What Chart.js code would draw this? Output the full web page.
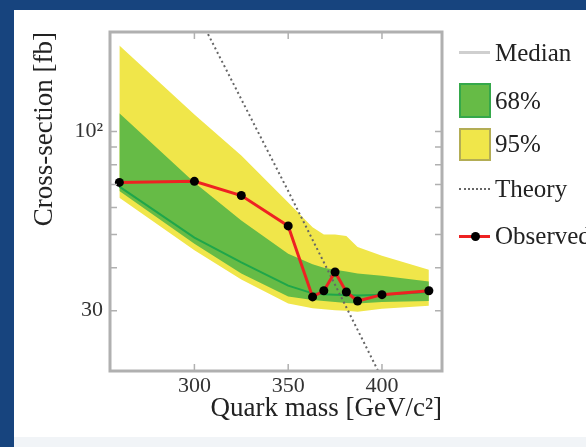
<!DOCTYPE html>
<html>
<head>
<meta charset="utf-8">
<script src="https://cdn.jsdelivr.net/npm/chart.js@4/dist/chart.umd.min.js"></script>
<style>
  html, body { margin: 0; padding: 0; }
  body { width: 586px; height: 447px; background: #17447e; position: relative; overflow: hidden; }
  #panel { position: absolute; left: 14px; top: 10px; width: 572px; height: 427px; background: #fff; }
  #strip { position: absolute; left: 14px; top: 437px; width: 572px; height: 10px; background: #f1f4f7; }
  #legend { position: absolute; left: 0; top: 0; font-family: "Liberation Serif", serif; font-size: 25px; color: #222; }
  .item { position: absolute; left: 495px; white-space: nowrap; line-height: 1; }
  .sw { position: absolute; }
</style>
</head>
<body>
<div id="panel"><canvas id="limitChart"></canvas></div>
<div id="strip"></div>
<div id="legend">
  <div class="sw" style="left:459px;top:51px;width:31px;height:3px;background:#cfcfcf"></div>
  <div class="item" style="top:40px">Median</div>

  <div class="sw" style="left:459px;top:83px;width:28px;height:31px;background:#66bb46;border:2px solid #35a84a"></div>
  <div class="item" style="top:88px">68%</div>

  <div class="sw" style="left:459px;top:128px;width:28px;height:29px;background:#f0e64a;border:2px solid #b3ad55"></div>
  <div class="item" style="top:131px">95%</div>

  <div class="sw" style="left:459px;top:188px;width:31px;height:0;border-top:2px dotted #666"></div>
  <div class="item" style="top:176px">Theory</div>

  <div class="sw" style="left:459px;top:235px;width:31px;height:3px;background:#ee2222"></div>
  <div class="sw" style="left:471px;top:232px;width:9px;height:9px;border-radius:50%;background:#000"></div>
  <div class="item" style="top:223px">Observed</div>
</div>

<script>
// masses in GeV/c^2 and cross-sections in fb
const masses     = [260, 300, 325, 350, 363, 369, 375, 381, 387, 400, 425];
const observed   = [71, 71.5, 65, 53, 32.9, 34.3, 38.9, 34.0, 32.0, 33.4, 34.3];
const median     = [69, 49, 41.5, 35.5, 33.7, 33.5, 33.4, 33.3, 33.2, 33.4, 34];
const band68Up   = [113, 71, 55, 44, 41, 40, 39.5, 39, 38.5, 37.9, 36.5];
const band68Low  = [67, 47, 38.5, 33, 32.2, 32, 31.8, 31.6, 31.5, 31.8, 32];
const band95Up   = [178, 112, 85, 62, 52.5, 50, 50, 49.5, 46, 43.4, 39.5];
const band95Low  = [64, 45, 37, 31.5, 30.5, 30.3, 30.1, 30, 29.8, 30.4, 31];
const theoryMass = [300, 350, 400];
const theory     = [230, 67, 19];
const xTicks     = [300, 350, 400];
const yTicks     = [30, 40, 50, 60, 70, 80, 90, 100];

const pts = (xs, ys) => xs.map((x, i) => ({ x: x, y: ys[i] }));

// frame + inward ticks on all four sides
const frameTicks = {
  id: 'frameTicks',
  afterDatasetsDraw(chart) {
    const { ctx, chartArea: a, scales: { x, y } } = chart;
    ctx.save();
    ctx.strokeStyle = '#b0b0b0';
    ctx.lineWidth = 1.5;
    x.ticks.forEach(t => {
      const px = x.getPixelForValue(t.value);
      ctx.beginPath();
      ctx.moveTo(px, a.bottom); ctx.lineTo(px, a.bottom - 7);
      ctx.moveTo(px, a.top); ctx.lineTo(px, a.top + 7);
      ctx.stroke();
    });
    y.ticks.forEach(t => {
      const py = y.getPixelForValue(t.value);
      ctx.beginPath();
      ctx.moveTo(a.left, py); ctx.lineTo(a.left + 7, py);
      ctx.moveTo(a.right, py); ctx.lineTo(a.right - 7, py);
      ctx.stroke();
    });
    ctx.lineWidth = 3;
    ctx.strokeRect(a.left, a.top, a.right - a.left, a.bottom - a.top);
    ctx.restore();
  }
};

const serif = '"Liberation Serif", serif';

new Chart(document.getElementById('limitChart'), {
  type: 'line',
  data: {
    datasets: [
      { data: pts(masses, observed), borderColor: '#ee2222', borderWidth: 3,
        pointRadius: 4.5, pointBorderWidth: 0, pointBackgroundColor: '#000',
        fill: false, order: 1 },
      { data: pts(theoryMass, theory), borderColor: '#666', borderWidth: 2,
        borderDash: [2, 3], pointRadius: 0, fill: false, order: 2 },
      { data: pts(masses, median), borderColor: '#1fa64a', borderWidth: 2,
        pointRadius: 0, fill: false, order: 3 },
      { data: pts(masses, band68Up), borderWidth: 0, pointRadius: 0,
        backgroundColor: '#66bb46', fill: '+1', order: 4 },
      { data: pts(masses, band68Low), borderWidth: 0, pointRadius: 0, fill: false, order: 4 },
      { data: pts(masses, band95Up), borderWidth: 0, pointRadius: 0,
        backgroundColor: '#f0e64a', fill: '+1', order: 5 },
      { data: pts(masses, band95Low), borderWidth: 0, pointRadius: 0, fill: false, order: 5 }
    ]
  },
  options: {
    responsive: true,
    maintainAspectRatio: false,
    animation: false,
    layout: { padding: { top: 22, right: 144, left: 0, bottom: 0 } },
    plugins: { legend: { display: false }, tooltip: { enabled: false } },
    scales: {
      x: {
        type: 'linear', min: 255, max: 432,
        afterBuildTicks: s => { s.ticks = xTicks.map(v => ({ value: v })); },
        afterFit: s => { s.height = 66; },
        grid: { display: false, drawTicks: false },
        border: { display: false },
        ticks: { color: '#333', padding: 2, maxRotation: 0, font: { family: serif, size: 22 } },
        title: { display: true, text: 'Quark mass [GeV/c²]', align: 'end', color: '#222',
                 padding: { top: 0, bottom: 12 }, font: { family: serif, size: 27 } }
      },
      y: {
        type: 'logarithmic', min: 20, max: 195,
        afterBuildTicks: s => { s.ticks = yTicks.map(v => ({ value: v })); },
        afterFit: s => { s.width = 96; },
        grid: { display: false, drawTicks: false },
        border: { display: false },
        ticks: { color: '#333', padding: 7, font: { family: serif, size: 22 },
                 callback: v => v === 100 ? '10²' : (v === 30 ? '30' : '') },
        title: { display: true, text: 'Cross-section [fb]', align: 'end', color: '#222',
                 padding: { top: 15, bottom: 0 }, font: { family: serif, size: 27 } }
      }
    }
  },
  plugins: [frameTicks]
});
</script>
</body>
</html>
